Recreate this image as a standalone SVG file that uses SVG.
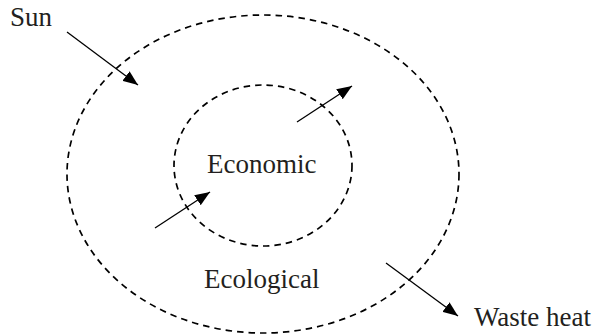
<svg xmlns="http://www.w3.org/2000/svg" width="600" height="336" viewBox="0 0 600 336">
<style>
.bd{fill:none;stroke:#000;stroke-width:1.7;stroke-dasharray:6.5 5}
.ar{fill:none;stroke:#000;stroke-width:1.3;marker-end:url(#ah)}
text{font-family:"Liberation Serif","Times New Roman",serif;font-size:27px;fill:#231f20}
</style>
<defs>
<marker id="ah" markerUnits="userSpaceOnUse" markerWidth="16" markerHeight="12" viewBox="0 0 16 12" refX="15" refY="6" orient="auto">
<path d="M0,0 L15,6 L0,12 Z" fill="#000"/>
</marker>
</defs>
<g id="ecological">
<ellipse class="bd" cx="263" cy="174" rx="196" ry="159"/>
<text x="204" y="288">Ecological</text>
</g>
<g id="economic">
<ellipse class="bd" cx="263" cy="165.5" rx="89" ry="80.5"/>
<text x="207" y="173">Economic</text>
</g>
<g id="sun"><text x="10" y="26">Sun</text></g>
<g id="waste"><text x="474" y="326">Waste heat</text></g>
<g id="connectors">
<line class="ar" x1="67" y1="32" x2="138" y2="85"/>
<line class="ar" x1="297" y1="122" x2="352" y2="86"/>
<line class="ar" x1="155" y1="228" x2="210" y2="192"/>
<line class="ar" x1="386" y1="263" x2="458" y2="316"/>
</g>
</svg>
